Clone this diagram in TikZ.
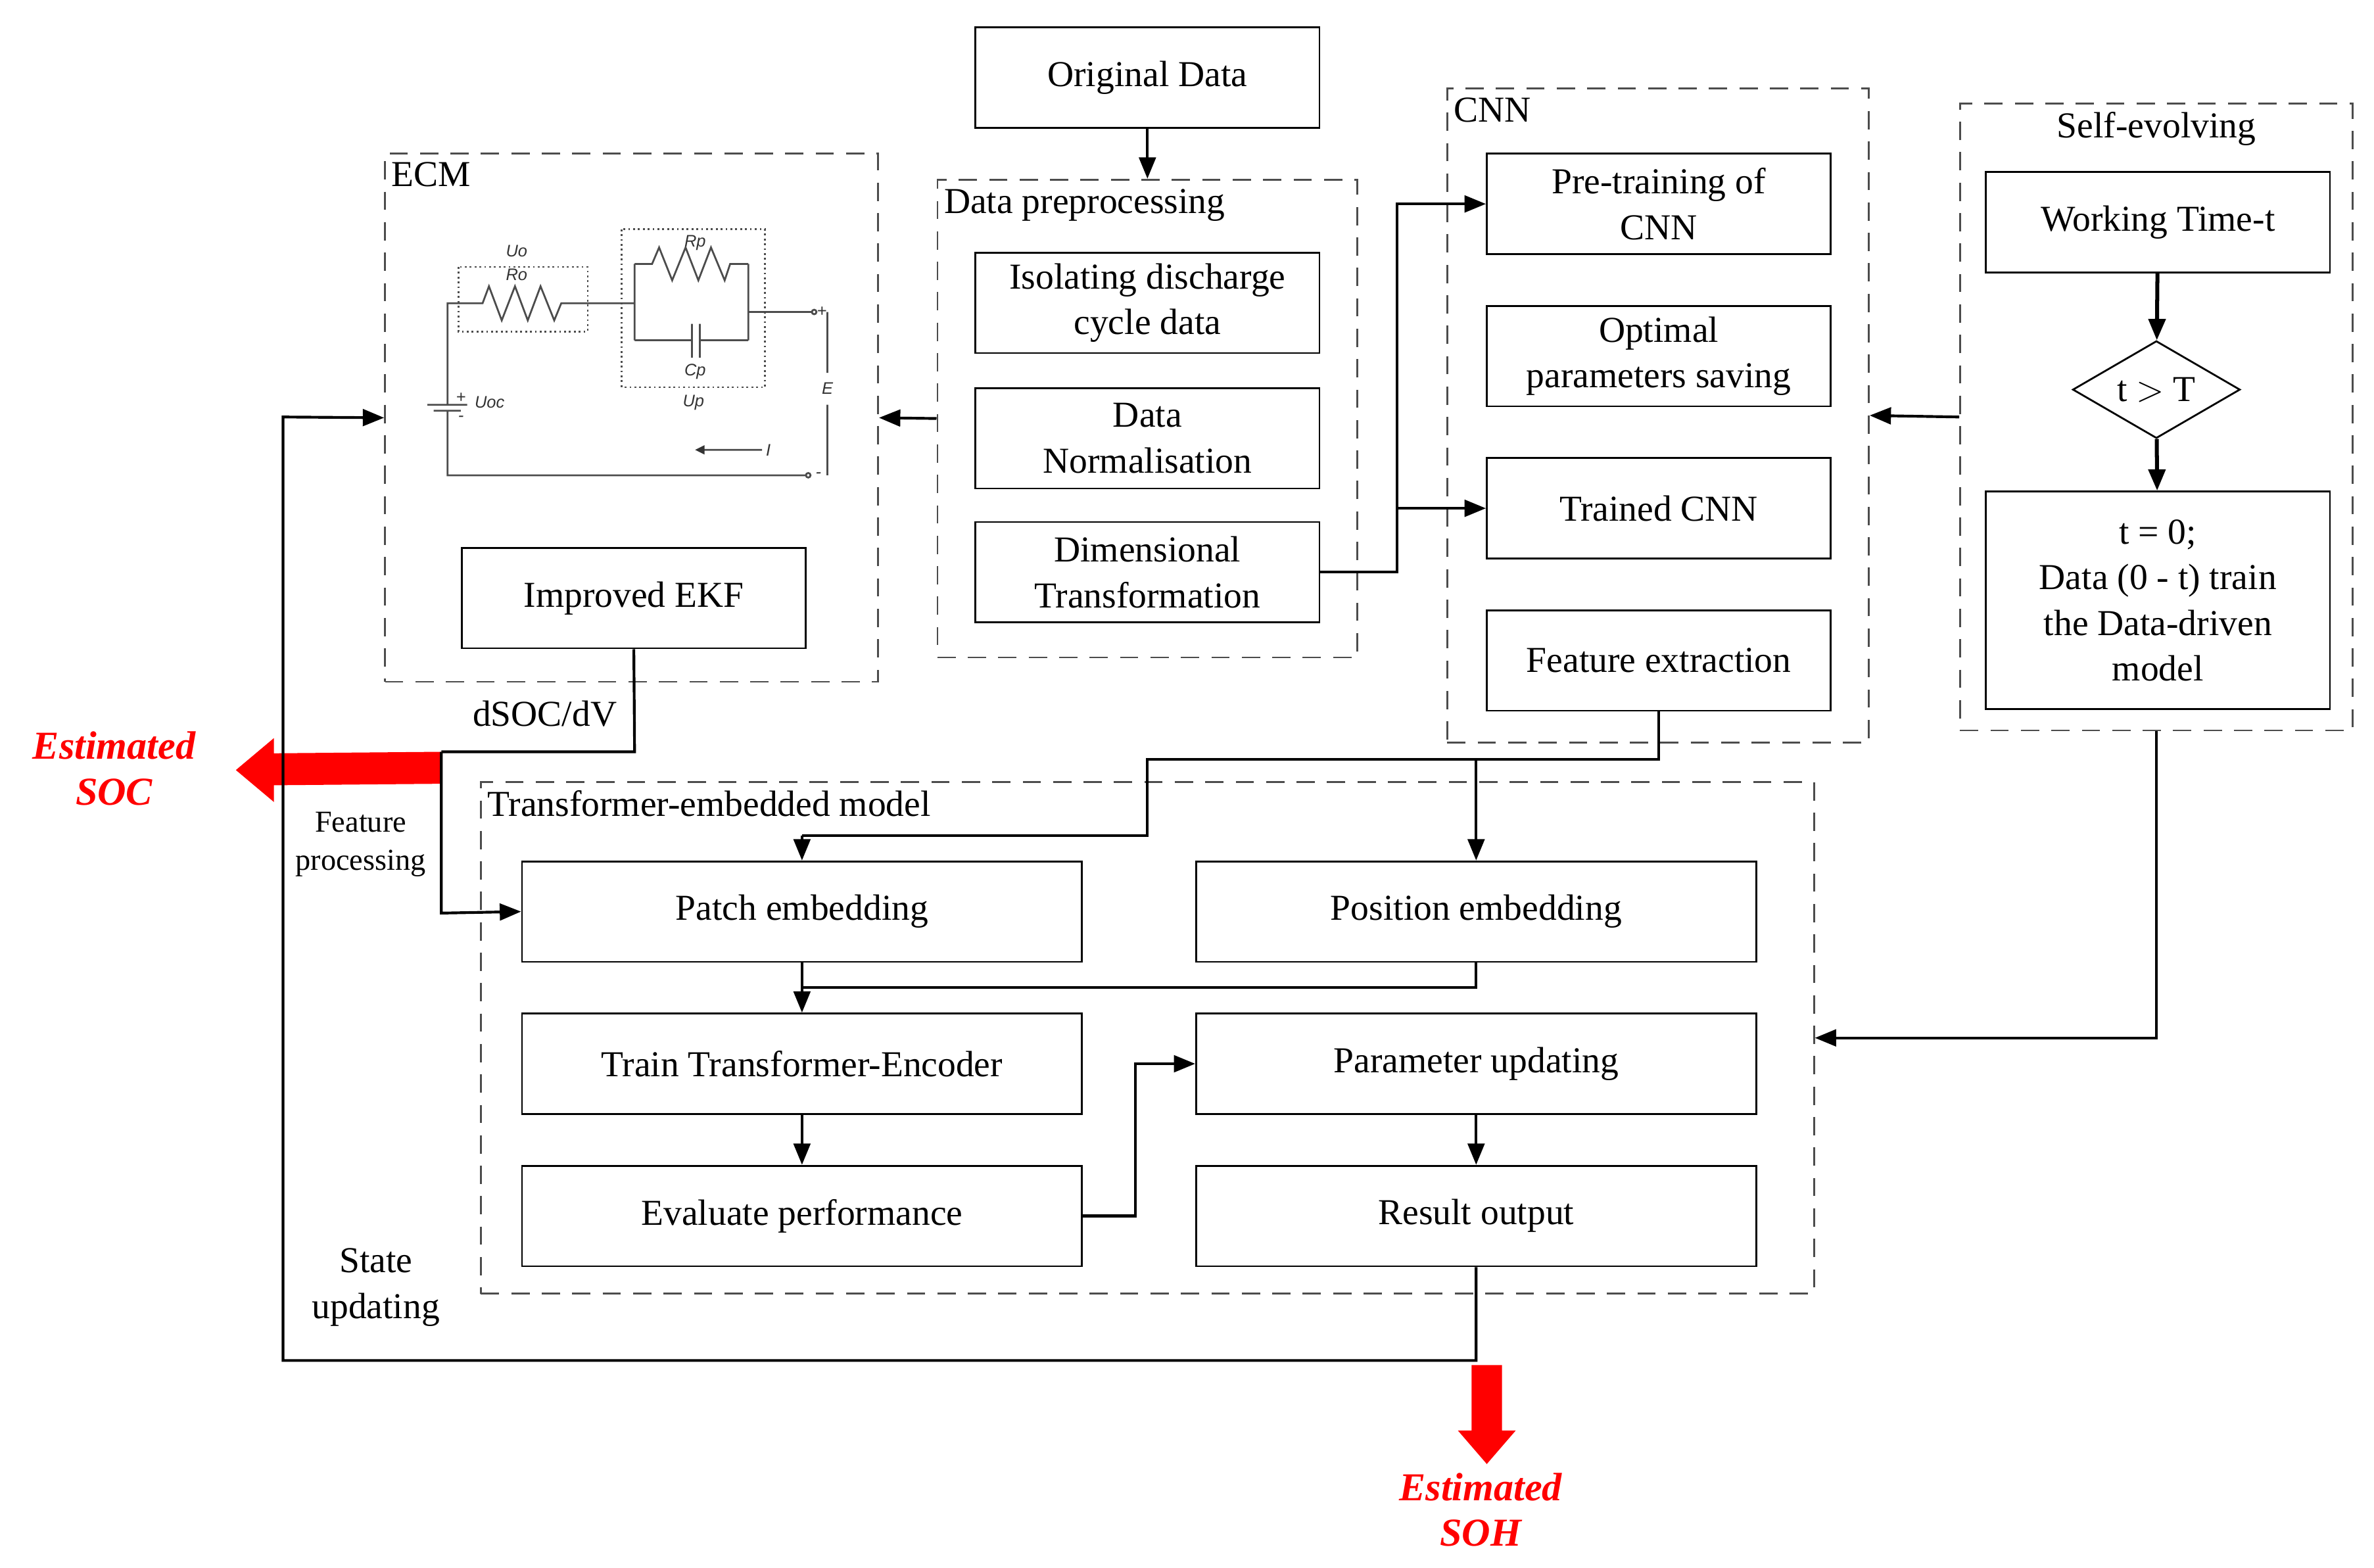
\documentclass[tikz,border=0pt]{standalone}
\usepackage{fontspec}
\setmainfont{Liberation Serif}
\newfontfamily\cirf{Liberation Sans}
\usetikzlibrary{arrows.meta,shapes.geometric,positioning}
\begin{document}
\begin{tikzpicture}[x=0.5pt,y=-0.5pt,
  box/.style={draw,line width=0.6pt,minimum width=113pt,minimum height=33pt,align=center,inner sep=1pt,font=\fontsize{12}{15}\selectfont},
  wbox/.style={box,minimum width=184pt},
  grp/.style={draw=black!70,dashed,dash pattern=on 6pt off 4pt,line width=0.6pt,inner sep=0pt},
  lab/.style={font=\fontsize{12}{15}\selectfont,inner sep=1pt},
  ar/.style={line width=0.9pt,-{Triangle[length=7pt,width=5.5pt]}},
  ln/.style={line width=0.9pt},
  cir/.style={draw=black!70,line width=0.6pt},
  cl/.style={font=\cirf\itshape\fontsize{5.5}{6}\selectfont,text=black!80,inner sep=0pt},
  redlab/.style={text=red,font=\fontsize{13}{15}\selectfont\bfseries\itshape,align=center}
]
\useasboundingbox (0,0) rectangle (1560,1030);
% groups
\node[grp,minimum width=162pt,minimum height=173.5pt] (ecm) at (415,274.5) {};
\node[grp,minimum width=138pt,minimum height=157pt] (pre) at (754,275) {};
\node[grp,minimum width=138.5pt,minimum height=215pt] (cnn) at (1089.5,273) {};
\node[grp,minimum width=129pt,minimum height=206pt] (self) at (1417,274) {};
\node[grp,minimum width=438pt,minimum height=168pt] (tr) at (754,682) {};
\node[lab,anchor=north west] at (255,104) {ECM};
\node[lab,anchor=north west] at (618,122) {Data preprocessing};
\node[lab,anchor=north west] at (953,62) {CNN};
\node[lab,anchor=north] at (1417,71) {Self-evolving};
\node[lab,anchor=north west] at (318,517) {Transformer-embedded model};
% boxes
\node[box] (orig) at (754,51) {Original Data};
\node[box] (iso) at (754,199) {Isolating discharge\\cycle data};
\node[box] (norm) at (754,288) {Data\\Normalisation};
\node[box] (dim) at (754,376) {Dimensional\\Transformation};
\node[box] (ekf) at (416.5,393) {Improved EKF};
\node[box] (ptr) at (1090,134) {Pre-training of\\CNN};
\node[box] (opt) at (1090,234) {Optimal\\parameters saving};
\node[box] (tcnn) at (1090,334) {Trained CNN};
\node[box] (fe) at (1090,434) {Feature extraction};
\node[box] (wt) at (1418,146) {Working Time-t};
\node[draw,line width=0.6pt,diamond,aspect=1.7,minimum width=55pt,minimum height=32pt,inner sep=0pt,font=\fontsize{12}{15}\selectfont] (dia) at (1417,256) {t $>$ T};
\node[box,minimum height=71.5pt] (t0) at (1418,394.5) {t = 0;\\Data (0 - t) train\\the Data-driven\\model};
\node[wbox] (pe) at (527,599) {Patch embedding};
\node[wbox] (pos) at (970,599) {Position embedding};
\node[wbox] (tte) at (527,699) {Train Transformer-Encoder};
\node[wbox] (pu) at (970,699) {Parameter updating};
\node[wbox] (ev) at (527,799) {Evaluate performance};
\node[wbox] (ro) at (970,799) {Result output};
% circuit
\draw[cir] (533.5,205) -- (491.7,205) (491.7,173.4) -- (491.7,223.6) (417,173.4) -- (417,223.6)
  (417,173.4) -- (428.5,173.4) -- (433.1,162.6) -- (441.7,184.2) -- (450.5,162.6) -- (458.9,184.2) -- (467.2,162.6) -- (476.2,184.2) -- (479.8,173.4) -- (491.7,173.4)
  (417,223.6) -- (454.7,223.6) (459.9,223.6) -- (491.7,223.6) (454.7,212.8) -- (454.7,235.1) (459.9,212.8) -- (459.9,235.1)
  (417,199.3) -- (368.8,199.3) -- (364.2,210.5) -- (355.2,188.1) -- (346.8,210.5) -- (338.4,188.1) -- (329.7,210.5) -- (321.3,188.1) -- (317.1,199.3) -- (294.1,199.3) -- (294.1,266)
  (280.9,266) -- (307,266) (285,269.9) -- (302.8,269.9) (294.1,269.9) -- (294.1,312.3) -- (529.6,312.3)
  (543.7,205) -- (543.7,245) (543.7,266) -- (543.7,312.3) (500.7,295.6) -- (460,295.6);
\fill[black!80] (456.8,295.6) -- (463,292.5) -- (463,298.7) -- cycle;
\draw[cir] (535,205) circle (1.5) (531.1,312.3) circle (1.5);
\draw[cir,densely dotted] (301.2,175.4) rectangle (386.2,217.9) (408.6,150.7) rectangle (502.8,254.4);
\node[cl] at (339.5,164.9) {Uo}; \node[cl] at (339.5,180.4) {Ro};
\node[cl] at (456.8,159.5) {Rp}; \node[cl] at (456.8,244.4) {Cp}; \node[cl] at (455.7,264.4) {Up};
\node[cl] at (321.7,264.4) {Uoc}; \node[cl] at (543.7,255.2) {E}; \node[cl] at (504.9,295.6) {I};
\node[cl] at (302.9,261.4) {+}; \node[cl] at (302.9,275) {-};
\node[cl] at (540,205) {+}; \node[cl] at (537.8,312.3) {-};
% labels
\node[lab] at (358,469) {dSOC/dV};
\node[lab,align=center,font=\fontsize{10}{12.5}\selectfont] at (237,555) {Feature\\processing};
\node[lab,align=center] at (247,846) {State\\updating};
\node[redlab] (soc) at (75,505) {Estimated\\SOC};
\node[redlab] (soh) at (973,992) {Estimated\\SOH};
% red arrows
\fill[red] (290,494) -- (180,495) -- (180,485) -- (155,506) -- (180,527) -- (180,516) -- (290,515) -- cycle;
\fill[red] (967,897) -- (987,897) -- (987,940) -- (996,940) -- (977,962) -- (958,940) -- (967,940) -- cycle;
% connectors
\draw[ar] (orig) -- (pre);
\draw[ar] (pre.west) -- (ecm.east);
\draw[ar] (self.west) -- (cnn.east);
\draw[ar] (dim.east) -- (918,376) -- (918,134) -- (ptr.west);
\draw[ar] (918,334) -- (tcnn.west);
\draw[ln] (ekf.south) -- (417,494) -- (290,494);
\draw[ar] (290,494) -- (290,600) -- (pe.west);
\draw[ln] (fe.south) -- (1090,499) -- (754,499) -- (754,549) -- (527,549);
\draw[ar] (527,549) -- (pe.north);
\draw[ar] (970,499) -- (pos.north);
\draw[ln] (pos.south) -- (970,649) -- (527,649);
\draw[ar] (pe.south) -- (tte.north);
\draw[ar] (tte) -- (ev);
\draw[ar] (ev.east) -- (746,799) -- (746,699) -- (pu.west);
\draw[ar] (pu) -- (ro);
\draw[ar] (ro.south) -- (970,894) -- (186,894) -- (186,274) -- (ecm.west);
\draw[ar] (self.south) -- (1417,682) -- (tr.east);
\draw[ar,line width=1.3pt] (wt) -- (dia);
\draw[ar,line width=1.3pt] (dia) -- (t0);
\end{tikzpicture}
\end{document}
